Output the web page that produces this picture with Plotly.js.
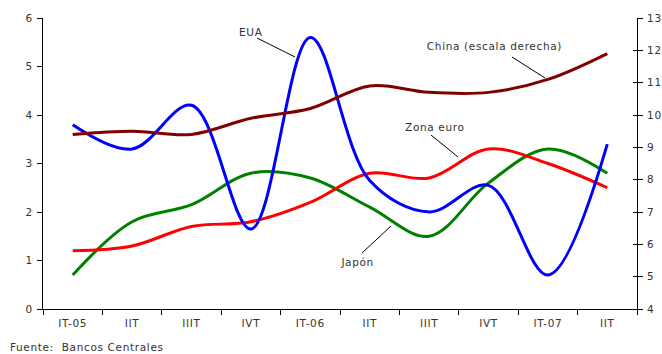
<!DOCTYPE html>
<html>
<head>
<meta charset="utf-8">
<script src="https://cdn.plot.ly/plotly-3.0.1.min.js"></script>
<style>
  html, body { margin: 0; padding: 0; background: #fff; }
  #chart { width: 662px; height: 354px; }
  /* slightly wider text setting */
  #chart text { letter-spacing: 0.65px; }
</style>
</head>
<body>
<div id="chart"></div>
<script>
// Quarter identifiers (unique) and the labels shown on the axis
const quarters = ['IT-05', 'IIT-05', 'IIIT-05', 'IVT-05', 'IT-06', 'IIT-06', 'IIIT-06', 'IVT-06', 'IT-07', 'IIT-07'];
const quarterLabels = ['IT-05', 'IIT', 'IIIT', 'IVT', 'IT-06', 'IIT', 'IIIT', 'IVT', 'IT-07', 'IIT'];

// Growth rates (%), left scale
const eua = [3.8, 3.3, 4.2, 1.65, 5.6, 2.65, 2.0, 2.55, 0.7, 3.4];
const zonaEuro = [1.2, 1.3, 1.7, 1.8, 2.2, 2.8, 2.7, 3.3, 3.0, 2.5];
const japon = [0.7, 1.8, 2.15, 2.8, 2.7, 2.1, 1.5, 2.6, 3.3, 2.8];
// Growth rate (%), right scale
const china = [9.4, 9.5, 9.4, 9.9, 10.2, 10.9, 10.7, 10.7, 11.1, 11.9];

// Plot area in pixels, used to place the callout labels
const plotL = 43, plotR = 637, plotT = 18, plotB = 309;
const px = x => (x - plotL) / (plotR - plotL);
const py = y => (plotB - y) / (plotB - plotT);

const fontFamily = 'DejaVu Sans, Verdana, sans-serif';
const textFont = { family: fontFamily, size: 10.5, color: '#333333' };

function series(name, y, color, axis) {
  return {
    type: 'scatter', mode: 'lines', name: name,
    x: quarters, y: y, yaxis: axis,
    line: { color: color, width: 3, shape: 'spline', smoothing: 1 },
    hoverinfo: 'skip'
  };
}

const traces = [
  series('China (escala derecha)', china, '#800000', 'y2'),
  series('Japón', japon, '#008000', 'y'),
  series('Zona euro', zonaEuro, '#ff0000', 'y'),
  series('EUA', eua, '#0000ff', 'y')
];

// Callout text and leader lines
const callouts = [
  { text: 'EUA', tx: 251, ty: 32, x0: 257, y0: 38, x1: 295, y1: 57 },
  { text: 'China (escala derecha)', tx: 494, ty: 46, x0: 512, y0: 57, x1: 545, y1: 78 },
  { text: 'Zona euro', tx: 435, ty: 127, x0: 431, y0: 135, x1: 458, y1: 157 },
  { text: 'Japón', tx: 357, ty: 262, x0: 362, y0: 253, x1: 391, y1: 226 }
];

const annotations = callouts.map(c => ({
  xref: 'paper', yref: 'paper', x: px(c.tx), y: py(c.ty),
  xanchor: 'center', yanchor: 'middle', showarrow: false,
  text: c.text, font: textFont
}));
// source note, centred so the wider letter spacing grows evenly
annotations.push({
  xref: 'paper', yref: 'paper', x: px(86), y: py(347),
  xanchor: 'center', yanchor: 'middle', showarrow: false,
  text: 'Fuente:  Bancos Centrales', font: textFont
});

const shapes = callouts.map(c => ({
  type: 'line', xref: 'paper', yref: 'paper',
  x0: px(c.x0), y0: py(c.y0), x1: px(c.x1), y1: py(c.y1),
  line: { color: '#000000', width: 1 }
}));

const axisCommon = {
  showline: true, linecolor: '#000000', linewidth: 1,
  ticks: 'outside', ticklen: 5, tickcolor: '#000000', tickwidth: 1,
  showgrid: false, zeroline: false, fixedrange: true,
  tickfont: { family: fontFamily, size: 10.5, color: '#333333' }
};

const layout = {
  width: 662, height: 354,
  margin: { l: plotL, r: 662 - plotR, t: plotT, b: 354 - plotB, pad: 0 },
  paper_bgcolor: '#ffffff', plot_bgcolor: '#ffffff',
  showlegend: false,
  xaxis: Object.assign({}, axisCommon, {
    type: 'category', tickmode: 'array', tickvals: quarters, ticktext: quarterLabels,
    tickson: 'boundaries', range: [-0.5, 9.5], ticklabelstandoff: 4
  }),
  yaxis: Object.assign({}, axisCommon, {
    range: [0, 6], dtick: 1, tick0: 0, ticklabelstandoff: 2
  }),
  yaxis2: Object.assign({}, axisCommon, {
    overlaying: 'y', side: 'right', range: [4, 13], dtick: 1, tick0: 4,
    ticklabelstandoff: 2
  }),
  // inner half of the right-hand tick marks, so they cross the axis
  yaxis3: Object.assign({}, axisCommon, {
    overlaying: 'y', side: 'right', range: [4, 13], dtick: 1, tick0: 4,
    ticks: 'inside', ticklen: 4, showticklabels: false
  }),
  annotations: annotations,
  shapes: shapes
};

// invisible trace so the inner-tick axis is drawn
traces.push({ type: 'scatter', mode: 'lines', x: [quarters[0]], y: [china[0]], yaxis: 'y3',
  line: { width: 0 }, hoverinfo: 'skip', showlegend: false });

Plotly.newPlot('chart', traces, layout, { staticPlot: true, displayModeBar: false });
</script>
</body>
</html>
